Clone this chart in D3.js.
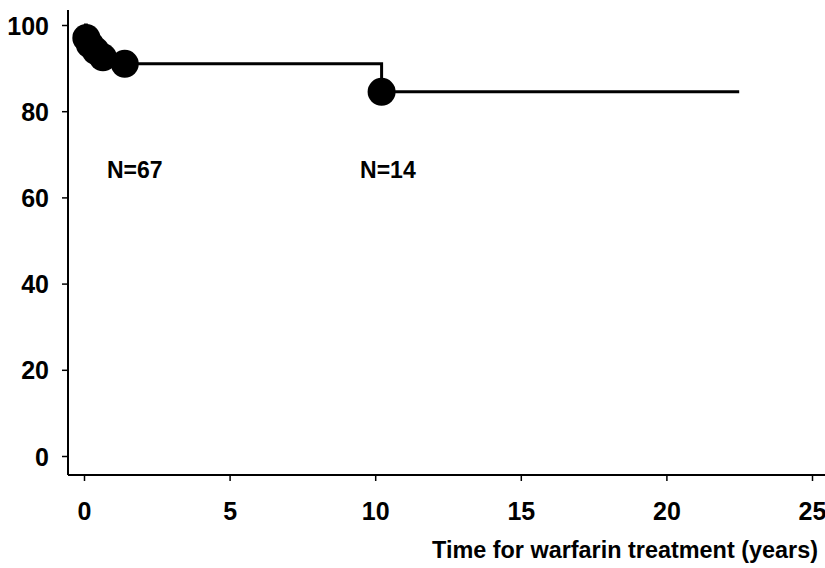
<!DOCTYPE html>
<html>
<head>
<meta charset="utf-8">
<script src="https://cdn.jsdelivr.net/npm/d3@7"></script>
<style>
  body { margin: 0; background: #fff; }
  svg { display: block; }
  text { font-family: "Liberation Sans", Arial, sans-serif; font-weight: bold; fill: #000; }
</style>
</head>
<body>
<svg id="chart" width="825" height="568"></svg>
<script>
"use strict";

// Kaplan-Meier step data (time in years, percent free of event)
var eventTimes = [0, 0.08, 0.2, 0.4, 0.65, 1.4, 10.22, 22.5];
var survival = [100, 97.0, 95.5, 94.0, 92.5, 91.0, 84.5, 84.5];
// which steps are marked with a dot
var eventMarked = [false, true, true, true, true, true, true, false];

var xTicks = [0, 5, 10, 15, 20, 25];
var yTicks = [0, 20, 40, 60, 80, 100];

var atRiskLabels = ["N=67", "N=14"];
var atRiskTimes = [0.79, 9.48];
var atRiskValues = [64.5, 64.5];

var xTitle = "Time for warfarin treatment (years)";

var svg = d3.select("#chart");

var x = d3.scaleLinear().domain([0, 25]).range([84, 812]);
var y = d3.scaleLinear().domain([0, 100]).range([456, 25]);

var axisX0 = 68, axisY0 = 475;

// y axis
var yAxis = d3.axisLeft(y).tickValues(yTicks).tickSize(6).tickPadding(13);
var gy = svg.append("g").attr("transform", "translate(" + axisX0 + ",0)").call(yAxis);
gy.select(".domain").remove();
gy.append("line")
    .attr("x1", 0).attr("x2", 0).attr("y1", 10).attr("y2", axisY0)
    .attr("stroke", "#000").attr("stroke-width", 2);
gy.selectAll(".tick line").attr("stroke", "#000").attr("stroke-width", 1.5);
gy.selectAll(".tick text")
    .attr("dy", "0.36em")
    .style("font-size", "25px");

// x axis
var xAxis = d3.axisBottom(x).tickValues(xTicks).tickSize(6).tickPadding(21);
var gx = svg.append("g").attr("transform", "translate(0," + axisY0 + ")").call(xAxis);
gx.select(".domain").remove();
gx.append("line")
    .attr("x1", axisX0).attr("x2", 825).attr("y1", 0).attr("y2", 0)
    .attr("stroke", "#000").attr("stroke-width", 2);
gx.selectAll(".tick line").attr("stroke", "#000").attr("stroke-width", 1.5);
gx.selectAll(".tick text")
    .style("font-size", "25px");

svg.append("text")
    .attr("x", 432).attr("y", 558)
    .style("font-size", "23px")
    .attr("textLength", 386)
    .attr("lengthAdjust", "spacingAndGlyphs")
    .text(xTitle);

// survival step curve
var pts = eventTimes.map(function(t, i) { return [t, survival[i]]; });
var line = d3.line()
    .x(function(d) { return x(d[0]); })
    .y(function(d) { return y(d[1]); })
    .curve(d3.curveStepAfter);

svg.append("path")
    .datum(pts)
    .attr("d", line)
    .attr("fill", "none")
    .attr("stroke", "#000")
    .attr("stroke-width", 3);

svg.selectAll("circle.event")
    .data(pts.filter(function(d, i) { return eventMarked[i]; }))
    .enter().append("circle")
    .attr("class", "event")
    .attr("cx", function(d) { return x(d[0]); })
    .attr("cy", function(d) { return y(d[1]); })
    .attr("r", 14)
    .attr("fill", "#000");

// number at risk
svg.selectAll("text.atrisk")
    .data(atRiskLabels)
    .enter().append("text")
    .attr("class", "atrisk")
    .attr("x", function(d, i) { return x(atRiskTimes[i]); })
    .attr("y", function(d, i) { return y(atRiskValues[i]); })
    .style("font-size", "23px")
    .text(function(d) { return d; });
</script>
</body>
</html>
